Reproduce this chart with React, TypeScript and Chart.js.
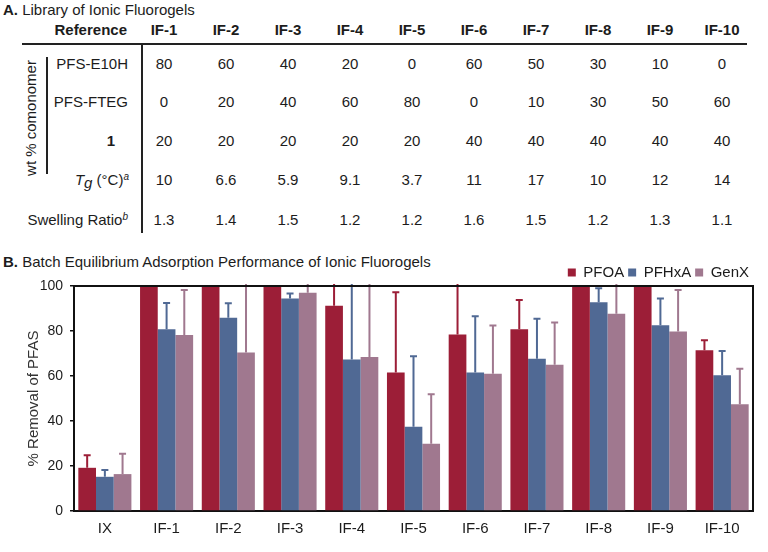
import React, { useEffect, useRef } from "react";
import { Chart, registerables } from "chart.js";
Chart.register(...registerables);

// ---------- Table data (panel A) ----------
const tableColumns = ["IF-1", "IF-2", "IF-3", "IF-4", "IF-5", "IF-6", "IF-7", "IF-8", "IF-9", "IF-10"];
const pfsE10H = ["80", "60", "40", "20", "0", "60", "50", "30", "10", "0"];
const pfsFTEG = ["0", "20", "40", "60", "80", "0", "10", "30", "50", "60"];
const comonomer1 = ["20", "20", "20", "20", "20", "40", "40", "40", "40", "40"];
const tgValues = ["10", "6.6", "5.9", "9.1", "3.7", "11", "17", "10", "12", "14"];
const swellingRatio = ["1.3", "1.4", "1.5", "1.2", "1.2", "1.6", "1.5", "1.2", "1.3", "1.1"];

// ---------- Chart data (panel B) ----------
const categories = ["IX", "IF-1", "IF-2", "IF-3", "IF-4", "IF-5", "IF-6", "IF-7", "IF-8", "IF-9", "IF-10"];
const seriesNames = ["PFOA", "PFHxA", "GenX"];
const pfoa = [19.2, 100, 100, 100, 91.2, 61.6, 78.5, 80.8, 100, 100, 71.5];
const pfoaErr = [5.6, 0, 0, 0, 12, 35.6, 25, 13, 0, 0, 4.4];
const pfhxa = [15.2, 80.8, 85.9, 94.5, 67.3, 37.5, 61.6, 67.7, 92.8, 82.6, 60.3];
const pfhxaErr = [3.0, 11.7, 6.4, 2.2, 35, 31.3, 25, 17.8, 6.2, 11.8, 10.8];
const genx = [16.4, 78.2, 70.5, 97.0, 68.5, 29.9, 61.0, 65.0, 87.7, 79.8, 47.4];
const genxErr = [9.0, 20.0, 32, 5, 35, 22.0, 21.5, 18.8, 15, 18.4, 15.8];
const yTicks = [0, 20, 40, 60, 80, 100];

const RED = "#9c1e37";
const BLUE = "#506994";
const PINK = "#a0788f";
const INK = "#1c1c1c";
const FONT = '"Liberation Sans", Arial, Helvetica, sans-serif';

const errorBarPlugin = {
  id: "errorBars",
  afterDatasetsDraw(chart: any) {
    const ctx = chart.ctx;
    const area = chart.chartArea;
    const y = chart.scales.y;
    ctx.save();
    ctx.beginPath();
    ctx.rect(area.left, area.top - 2, area.right - area.left, area.bottom - area.top + 2);
    ctx.clip();
    chart.data.datasets.forEach((ds: any, di: number) => {
      const meta = chart.getDatasetMeta(di);
      meta.data.forEach((bar: any, i: number) => {
        const e = ds.errors[i];
        if (!e) return;
        const v = ds.data[i];
        const y0 = y.getPixelForValue(v);
        const y1 = y.getPixelForValue(v + e);
        ctx.strokeStyle = ds.backgroundColor;
        ctx.lineWidth = 2;
        ctx.beginPath();
        ctx.moveTo(bar.x, y0);
        ctx.lineTo(bar.x, y1);
        ctx.moveTo(bar.x - 3.5, y1);
        ctx.lineTo(bar.x + 3.5, y1);
        ctx.stroke();
      });
    });
    ctx.restore();
  },
};

const boxPlugin = {
  id: "plotBox",
  afterDraw(chart: any) {
    const { ctx, chartArea: a } = chart;
    ctx.save();
    ctx.strokeStyle = "#111";
    ctx.lineWidth = 2;
    ctx.beginPath();
    ctx.moveTo(a.left, a.top);
    ctx.lineTo(a.right, a.top);
    ctx.lineTo(a.right, a.bottom);
    ctx.stroke();
    ctx.restore();
  },
};

function BarChart() {
  const ref = useRef<HTMLCanvasElement>(null);
  useEffect(() => {
    if (!ref.current) return;
    const values = [pfoa, pfhxa, genx];
    const errs = [pfoaErr, pfhxaErr, genxErr];
    const colors = [RED, BLUE, PINK];
    const chart = new Chart(ref.current, {
      type: "bar",
      data: {
        labels: categories,
        datasets: seriesNames.map((name, k) => ({
          label: name,
          data: values[k],
          errors: errs[k],
          backgroundColor: colors[k],
          borderWidth: 0,
          categoryPercentage: 0.86,
          barPercentage: 1,
        })) as any,
      },
      options: {
        animation: false,
        responsive: true,
        maintainAspectRatio: false,
        layout: { padding: { left: 0, right: 15, top: 0, bottom: 5 } },
        plugins: {
          tooltip: { enabled: false },
          legend: {
            position: "top",
            align: "end",
            maxHeight: 25,
            labels: {
              boxWidth: 8,
              boxHeight: 8,
              padding: 4,
              color: INK,
              font: { family: FONT, size: 15 },
            },
          },
        },
        scales: {
          x: {
            grid: { display: false, drawTicks: false },
            border: { display: true, color: "#111", width: 2 },
            ticks: { color: INK, font: { family: FONT, size: 15 }, padding: 9 },
          },
          y: {
            min: 0,
            max: 100,
            afterFit(scale: any) {
              scale.width = 74;
            },
            afterBuildTicks(scale: any) {
              scale.ticks = yTicks.map((v) => ({ value: v }));
            },
            grid: { display: true, drawOnChartArea: false, drawTicks: true, tickLength: 4, color: "#111", lineWidth: 1.5 },
            border: { display: true, color: "#111", width: 2 },
            ticks: { color: INK, font: { family: FONT, size: 14 }, padding: 7 },
            title: {
              display: true,
              text: "% Removal of PFAS",
              color: "#333",
              font: { family: FONT, size: 15 },
              padding: { top: 25, bottom: 0 },
            },
          },
        },
      },
      plugins: [errorBarPlugin, boxPlugin],
    });
    return () => chart.destroy();
  }, []);
  return (
    <div style={{ position: "absolute", left: 0, top: 261, width: 768, height: 291 }}>
      <canvas ref={ref} />
    </div>
  );
}

const base: React.CSSProperties = {
  position: "absolute",
  whiteSpace: "nowrap",
  fontFamily: FONT,
  fontSize: 15,
  lineHeight: "18px",
  color: INK,
};

const colX = (i: number) => 164 + i * 62;
const rowY = [63.8, 101.7, 141.2, 180.3, 220];

function Centered({ cx, cy, bold, children }: any) {
  return (
    <div style={{ ...base, left: cx - 40, width: 80, top: cy - 9, textAlign: "center", fontWeight: bold ? "bold" : "normal" }}>
      {children}
    </div>
  );
}

function RightLabel({ right, cy, bold, children }: any) {
  return (
    <div style={{ ...base, left: 0, width: right, top: cy - 9, textAlign: "right", fontWeight: bold ? "bold" : "normal" }}>
      {children}
    </div>
  );
}

function TablePanel() {
  const rows = [pfsE10H, pfsFTEG, comonomer1, tgValues, swellingRatio];
  return (
    <>
      <div style={{ ...base, left: 3, top: 0.5 }}>
        <b>A.</b> Library of Ionic Fluorogels
      </div>
      <RightLabel right={127} cy={30.3} bold>
        Reference
      </RightLabel>
      {tableColumns.map((c, i) => (
        <Centered key={c} cx={colX(i)} cy={30.3} bold>
          {c}
        </Centered>
      ))}
      <div style={{ position: "absolute", left: 22, top: 43.3, width: 725, height: 2, background: "#222" }} />
      <div style={{ position: "absolute", left: 141, top: 44, width: 2, height: 189, background: "#222" }} />
      <div style={{ position: "absolute", left: 46, top: 57, width: 2, height: 117, background: "#222" }} />
      <div
        style={{
          ...base,
          left: 31 - 70,
          top: 117.5 - 9,
          width: 140,
          textAlign: "center",
          transform: "rotate(-90deg)",
          transformOrigin: "50% 50%",
        }}
      >
        wt % comonomer
      </div>
      <RightLabel right={128} cy={rowY[0]}>PFS-E10H</RightLabel>
      <RightLabel right={128} cy={rowY[1]}>PFS-FTEG</RightLabel>
      <Centered cx={111} cy={rowY[2]} bold>
        1
      </Centered>
      <RightLabel right={129} cy={rowY[3]}>
        <span style={{ fontStyle: "italic" }}>T</span>
        <span style={{ fontStyle: "italic", position: "relative", top: 3 }}>g</span> (°C)
        <span style={{ fontStyle: "italic", fontSize: 10, position: "relative", top: -5 }}>a</span>
      </RightLabel>
      <RightLabel right={128} cy={rowY[4]}>
        Swelling Ratio
        <span style={{ fontStyle: "italic", fontSize: 10, position: "relative", top: -5 }}>b</span>
      </RightLabel>
      {rows.map((r, ri) =>
        r.map((v, i) => (
          <Centered key={ri + "-" + i} cx={colX(i)} cy={rowY[ri]}>
            {v}
          </Centered>
        ))
      )}
      <div style={{ ...base, left: 3, top: 252.7 }}>
        <b>B.</b> Batch Equilibrium Adsorption Performance of Ionic Fluorogels
      </div>
    </>
  );
}

export default function App() {
  return (
    <div style={{ position: "absolute", left: 0, top: 0, width: 768, height: 552, background: "#fff", overflow: "hidden" }}>
      <TablePanel />
      <BarChart />
    </div>
  );
}
